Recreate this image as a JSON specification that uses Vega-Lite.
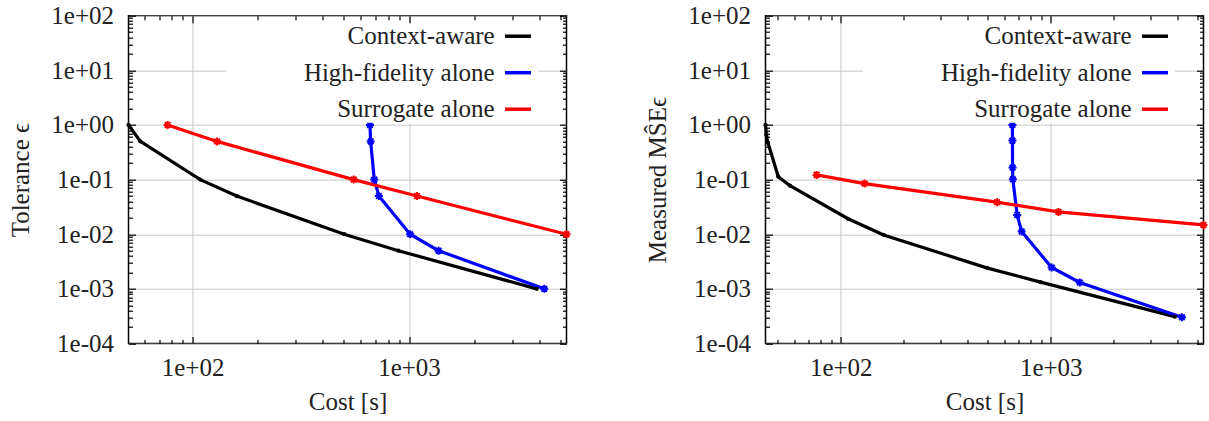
{
  "$schema": "https://vega.github.io/schema/vega-lite/v6.json",
  "autosize": {"type": "none"},
  "padding": {"left": 128.5, "top": 15.7, "right": 1080.5, "bottom": 405.3},
  "background": "white",
  "bounds": "flush",
  "spacing": 199,
  "config": {
    "font": "Liberation Serif",
    "view": {"stroke": "black", "strokeWidth": 1.5},
    "axis": {
      "labelFont": "Liberation Serif", "labelFontSize": 25, "labelColor": "#222",
      "titleFont": "Liberation Serif", "titleFontSize": 25, "titleColor": "#222", "titleFontWeight": "normal",
      "tickColor": "black", "tickWidth": 1.2, "domain": false,
      "labelFlush": false, "labelOverlap": false, "labelBound": false,
      "gridColor": "#c8c8c8", "gridWidth": 1
    },
    "legend": {
      "labelFont": "Liberation Serif", "labelFontSize": 25, "labelColor": "#222", "labelLimit": 500,
      "titleFont": "Liberation Serif", "titleFontSize": 25
    }
  },
  "datasets": {
    "tol": [
      {"series": "Context-aware", "i": 0, "cost": 50.6, "value": 1},
      {"series": "Context-aware", "i": 1, "cost": 57.4, "value": 0.5},
      {"series": "Context-aware", "i": 2, "cost": 108.5, "value": 0.1},
      {"series": "Context-aware", "i": 3, "cost": 160, "value": 0.05},
      {"series": "Context-aware", "i": 4, "cost": 502, "value": 0.01},
      {"series": "Context-aware", "i": 5, "cost": 893, "value": 0.005},
      {"series": "Context-aware", "i": 6, "cost": 3890, "value": 0.001},
      {"series": "High-fidelity alone", "i": 0, "cost": 660, "value": 1},
      {"series": "High-fidelity alone", "i": 1, "cost": 665, "value": 0.5},
      {"series": "High-fidelity alone", "i": 2, "cost": 691, "value": 0.1},
      {"series": "High-fidelity alone", "i": 3, "cost": 726, "value": 0.05},
      {"series": "High-fidelity alone", "i": 4, "cost": 1012, "value": 0.01},
      {"series": "High-fidelity alone", "i": 5, "cost": 1370, "value": 0.005},
      {"series": "High-fidelity alone", "i": 6, "cost": 4215, "value": 0.001},
      {"series": "Surrogate alone", "i": 0, "cost": 76.7, "value": 1},
      {"series": "Surrogate alone", "i": 1, "cost": 129.8, "value": 0.5},
      {"series": "Surrogate alone", "i": 2, "cost": 555, "value": 0.1},
      {"series": "Surrogate alone", "i": 3, "cost": 1088, "value": 0.05},
      {"series": "Surrogate alone", "i": 4, "cost": 5340, "value": 0.01}
    ],
    "mse": [
      {"series": "Context-aware", "i": 0, "cost": 43.8, "value": 1.0},
      {"series": "Context-aware", "i": 1, "cost": 44.2, "value": 0.655},
      {"series": "Context-aware", "i": 2, "cost": 45.0, "value": 0.473},
      {"series": "Context-aware", "i": 3, "cost": 50.4, "value": 0.113},
      {"series": "Context-aware", "i": 4, "cost": 57.3, "value": 0.0775},
      {"series": "Context-aware", "i": 5, "cost": 108.3, "value": 0.0192},
      {"series": "Context-aware", "i": 6, "cost": 160, "value": 0.0097},
      {"series": "Context-aware", "i": 7, "cost": 500, "value": 0.0024},
      {"series": "Context-aware", "i": 8, "cost": 894, "value": 0.00133},
      {"series": "Context-aware", "i": 9, "cost": 3900, "value": 0.00031},
      {"series": "High-fidelity alone", "i": 0, "cost": 657, "value": 1.0},
      {"series": "High-fidelity alone", "i": 1, "cost": 657, "value": 0.517},
      {"series": "High-fidelity alone", "i": 2, "cost": 658, "value": 0.166},
      {"series": "High-fidelity alone", "i": 3, "cost": 660, "value": 0.101},
      {"series": "High-fidelity alone", "i": 4, "cost": 692, "value": 0.0226},
      {"series": "High-fidelity alone", "i": 5, "cost": 727, "value": 0.0112},
      {"series": "High-fidelity alone", "i": 6, "cost": 1010, "value": 0.00246},
      {"series": "High-fidelity alone", "i": 7, "cost": 1375, "value": 0.00131},
      {"series": "High-fidelity alone", "i": 8, "cost": 4215, "value": 0.000302},
      {"series": "Surrogate alone", "i": 0, "cost": 76.7, "value": 0.122},
      {"series": "Surrogate alone", "i": 1, "cost": 129.8, "value": 0.0845},
      {"series": "Surrogate alone", "i": 2, "cost": 555, "value": 0.0386},
      {"series": "Surrogate alone", "i": 3, "cost": 1088, "value": 0.0256},
      {"series": "Surrogate alone", "i": 4, "cost": 5340, "value": 0.0148}
    ]
  },
  "resolve": {"legend": {"color": "independent"}, "scale": {"x": "independent", "y": "independent"}},
  "hconcat": [
    {
      "width": 438, "height": 327.8,
      "data": {"name": "tol"},
      "resolve": {"axis": {"x": "independent", "y": "independent"}},
      "layer": [
        {
          "mark": {"type": "line", "strokeWidth": 3.2},
          "encoding": {
            "x": {"field": "cost", "type": "quantitative", "scale": {"type": "log", "domain": [50.6, 5340], "nice": false},
              "axis": {"orient": "bottom", "values": [100, 1000], "tickSize": -7, "labelPadding": 19, "grid": true, "title": "Cost [s]", "titlePadding": 9.5,
                "labelFont": "Liberation Serif", "titleFont": "Liberation Serif",
                "labelExpr": "'1e' + (datum.value >= 1 ? '+' : '-') + (abs(round(log(datum.value)/LN10)) < 10 ? '0' : '') + abs(round(log(datum.value)/LN10))"}},
            "y": {"field": "value", "type": "quantitative", "scale": {"type": "log", "domain": [0.0001, 100], "nice": false},
              "axis": {"orient": "left", "values": [0.0001, 0.001, 0.01, 0.1, 1, 10, 100], "tickSize": -7, "labelPadding": 22, "grid": true, "title": "Tolerance ϵ", "titlePadding": 17,
                "labelFont": "Liberation Serif", "titleFont": "Liberation Serif",
                "labelExpr": "'1e' + (datum.value >= 1 ? '+' : '-') + (abs(round(log(datum.value)/LN10)) < 10 ? '0' : '') + abs(round(log(datum.value)/LN10))"}},
            "order": {"field": "i", "type": "quantitative"},
            "color": {"field": "series", "type": "nominal",
              "scale": {"domain": ["Context-aware", "High-fidelity alone", "Surrogate alone"], "range": ["#000000", "#0000ff", "#ff0000"]},
              "legend": {"orient": "none", "legendX": 97.5, "legendY": 8, "direction": "vertical", "title": "\u2003", "titleOrient": "left", "titlePadding": 279.5,
                "labelFont": "Liberation Serif", "labelFontSize": 25, "titleFont": "Liberation Serif",
                "symbolType": "M-2,0L2,0", "symbolSize": 169, "symbolStrokeWidth": 3.5, "labelAlign": "right", "labelOffset": -35.8,
                "rowPadding": 10.5, "padding": 0, "fillColor": "white", "strokeColor": null}}
          }
        },
        {
          "transform": [{"filter": "datum.series === 'Context-aware'"}],
          "mark": {"type": "point", "filled": true, "size": 18, "color": "#000000", "opacity": 1},
          "encoding": {
            "x": {"field": "cost", "type": "quantitative", "scale": {"type": "log", "domain": [50.6, 5340], "nice": false},
              "axis": {"orient": "bottom", "values": [60, 70, 80, 90, 200, 300, 400, 500, 600, 700, 800, 900, 2000, 3000, 4000, 5000], "tickSize": -4, "labels": false, "grid": false, "title": null}},
            "y": {"field": "value", "type": "quantitative", "scale": {"type": "log", "domain": [0.0001, 100], "nice": false},
              "axis": {"orient": "left", "values": [0.0002, 0.0003, 0.0004, 0.0005, 0.0006, 0.0007, 0.0008, 0.0009, 0.002, 0.003, 0.004, 0.005, 0.006, 0.007, 0.008, 0.009, 0.02, 0.03, 0.04, 0.05, 0.06, 0.07, 0.08, 0.09, 0.2, 0.3, 0.4, 0.5, 0.6, 0.7, 0.8, 0.9, 2, 3, 4, 5, 6, 7, 8, 9, 20, 30, 40, 50, 60, 70, 80, 90], "tickSize": -4, "labels": false, "grid": false, "title": null}}
          }
        },
        {
          "transform": [{"filter": "datum.series === 'High-fidelity alone'"}],
          "mark": {"type": "point", "shape": "M-1,0L1,0M0,-1L0,1M-0.7,-0.7L0.7,0.7M-0.7,0.7L0.7,-0.7", "filled": false, "size": 64, "strokeWidth": 2, "color": "#0000ff", "opacity": 1},
          "encoding": {
            "x": {"field": "cost", "type": "quantitative", "scale": {"type": "log", "domain": [50.6, 5340], "nice": false},
              "axis": {"orient": "top", "values": [100, 1000], "tickSize": -7, "labels": false, "grid": false, "title": null}},
            "y": {"field": "value", "type": "quantitative", "scale": {"type": "log", "domain": [0.0001, 100], "nice": false},
              "axis": {"orient": "right", "values": [0.0001, 0.001, 0.01, 0.1, 1, 10, 100], "tickSize": -7, "labels": false, "grid": false, "title": null}}
          }
        },
        {
          "transform": [{"filter": "datum.series === 'Surrogate alone'"}],
          "mark": {"type": "point", "shape": "M-1,0L1,0M0,-1L0,1M-0.7,-0.7L0.7,0.7M-0.7,0.7L0.7,-0.7", "filled": false, "size": 64, "strokeWidth": 2, "color": "#ff0000", "opacity": 1},
          "encoding": {
            "x": {"field": "cost", "type": "quantitative", "scale": {"type": "log", "domain": [50.6, 5340], "nice": false},
              "axis": {"orient": "top", "values": [60, 70, 80, 90, 200, 300, 400, 500, 600, 700, 800, 900, 2000, 3000, 4000, 5000], "tickSize": -4, "labels": false, "grid": false, "title": null}},
            "y": {"field": "value", "type": "quantitative", "scale": {"type": "log", "domain": [0.0001, 100], "nice": false},
              "axis": {"orient": "right", "values": [0.0002, 0.0003, 0.0004, 0.0005, 0.0006, 0.0007, 0.0008, 0.0009, 0.002, 0.003, 0.004, 0.005, 0.006, 0.007, 0.008, 0.009, 0.02, 0.03, 0.04, 0.05, 0.06, 0.07, 0.08, 0.09, 0.2, 0.3, 0.4, 0.5, 0.6, 0.7, 0.8, 0.9, 2, 3, 4, 5, 6, 7, 8, 9, 20, 30, 40, 50, 60, 70, 80, 90], "tickSize": -4, "labels": false, "grid": false, "title": null}}
          }
        }
      ]
    },
    {
      "width": 438, "height": 327.8,
      "data": {"name": "mse"},
      "resolve": {"axis": {"x": "independent", "y": "independent"}},
      "layer": [
        {
          "mark": {"type": "line", "strokeWidth": 3.2},
          "encoding": {
            "x": {"field": "cost", "type": "quantitative", "scale": {"type": "log", "domain": [43.8, 5340], "nice": false},
              "axis": {"orient": "bottom", "values": [100, 1000], "tickSize": -7, "labelPadding": 19, "grid": true, "title": "Cost [s]", "titlePadding": 9.5,
                "labelFont": "Liberation Serif", "titleFont": "Liberation Serif",
                "labelExpr": "'1e' + (datum.value >= 1 ? '+' : '-') + (abs(round(log(datum.value)/LN10)) < 10 ? '0' : '') + abs(round(log(datum.value)/LN10))"}},
            "y": {"field": "value", "type": "quantitative", "scale": {"type": "log", "domain": [0.0001, 100], "nice": false},
              "axis": {"orient": "left", "values": [0.0001, 0.001, 0.01, 0.1, 1, 10, 100], "tickSize": -7, "labelPadding": 22, "grid": true, "title": "Measured MŜEϵ", "titlePadding": 17,
                "labelFont": "Liberation Serif", "titleFont": "Liberation Serif",
                "labelExpr": "'1e' + (datum.value >= 1 ? '+' : '-') + (abs(round(log(datum.value)/LN10)) < 10 ? '0' : '') + abs(round(log(datum.value)/LN10))"}},
            "order": {"field": "i", "type": "quantitative"},
            "color": {"field": "series", "type": "nominal",
              "scale": {"domain": ["Context-aware", "High-fidelity alone", "Surrogate alone"], "range": ["#000000", "#0000ff", "#ff0000"]},
              "legend": {"orient": "none", "legendX": 97.5, "legendY": 8, "direction": "vertical", "title": "\u2003", "titleOrient": "left", "titlePadding": 279.5,
                "labelFont": "Liberation Serif", "labelFontSize": 25, "titleFont": "Liberation Serif",
                "symbolType": "M-2,0L2,0", "symbolSize": 169, "symbolStrokeWidth": 3.5, "labelAlign": "right", "labelOffset": -35.8,
                "rowPadding": 10.5, "padding": 0, "fillColor": "white", "strokeColor": null}}
          }
        },
        {
          "transform": [{"filter": "datum.series === 'Context-aware'"}],
          "mark": {"type": "point", "filled": true, "size": 18, "color": "#000000", "opacity": 1},
          "encoding": {
            "x": {"field": "cost", "type": "quantitative", "scale": {"type": "log", "domain": [43.8, 5340], "nice": false},
              "axis": {"orient": "bottom", "values": [50, 60, 70, 80, 90, 200, 300, 400, 500, 600, 700, 800, 900, 2000, 3000, 4000, 5000], "tickSize": -4, "labels": false, "grid": false, "title": null}},
            "y": {"field": "value", "type": "quantitative", "scale": {"type": "log", "domain": [0.0001, 100], "nice": false},
              "axis": {"orient": "left", "values": [0.0002, 0.0003, 0.0004, 0.0005, 0.0006, 0.0007, 0.0008, 0.0009, 0.002, 0.003, 0.004, 0.005, 0.006, 0.007, 0.008, 0.009, 0.02, 0.03, 0.04, 0.05, 0.06, 0.07, 0.08, 0.09, 0.2, 0.3, 0.4, 0.5, 0.6, 0.7, 0.8, 0.9, 2, 3, 4, 5, 6, 7, 8, 9, 20, 30, 40, 50, 60, 70, 80, 90], "tickSize": -4, "labels": false, "grid": false, "title": null}}
          }
        },
        {
          "transform": [{"filter": "datum.series === 'High-fidelity alone'"}],
          "mark": {"type": "point", "shape": "M-1,0L1,0M0,-1L0,1M-0.7,-0.7L0.7,0.7M-0.7,0.7L0.7,-0.7", "filled": false, "size": 64, "strokeWidth": 2, "color": "#0000ff", "opacity": 1},
          "encoding": {
            "x": {"field": "cost", "type": "quantitative", "scale": {"type": "log", "domain": [43.8, 5340], "nice": false},
              "axis": {"orient": "top", "values": [100, 1000], "tickSize": -7, "labels": false, "grid": false, "title": null}},
            "y": {"field": "value", "type": "quantitative", "scale": {"type": "log", "domain": [0.0001, 100], "nice": false},
              "axis": {"orient": "right", "values": [0.0001, 0.001, 0.01, 0.1, 1, 10, 100], "tickSize": -7, "labels": false, "grid": false, "title": null}}
          }
        },
        {
          "transform": [{"filter": "datum.series === 'Surrogate alone'"}],
          "mark": {"type": "point", "shape": "M-1,0L1,0M0,-1L0,1M-0.7,-0.7L0.7,0.7M-0.7,0.7L0.7,-0.7", "filled": false, "size": 64, "strokeWidth": 2, "color": "#ff0000", "opacity": 1},
          "encoding": {
            "x": {"field": "cost", "type": "quantitative", "scale": {"type": "log", "domain": [43.8, 5340], "nice": false},
              "axis": {"orient": "top", "values": [50, 60, 70, 80, 90, 200, 300, 400, 500, 600, 700, 800, 900, 2000, 3000, 4000, 5000], "tickSize": -4, "labels": false, "grid": false, "title": null}},
            "y": {"field": "value", "type": "quantitative", "scale": {"type": "log", "domain": [0.0001, 100], "nice": false},
              "axis": {"orient": "right", "values": [0.0002, 0.0003, 0.0004, 0.0005, 0.0006, 0.0007, 0.0008, 0.0009, 0.002, 0.003, 0.004, 0.005, 0.006, 0.007, 0.008, 0.009, 0.02, 0.03, 0.04, 0.05, 0.06, 0.07, 0.08, 0.09, 0.2, 0.3, 0.4, 0.5, 0.6, 0.7, 0.8, 0.9, 2, 3, 4, 5, 6, 7, 8, 9, 20, 30, 40, 50, 60, 70, 80, 90], "tickSize": -4, "labels": false, "grid": false, "title": null}}
          }
        }
      ]
    }
  ]
}
